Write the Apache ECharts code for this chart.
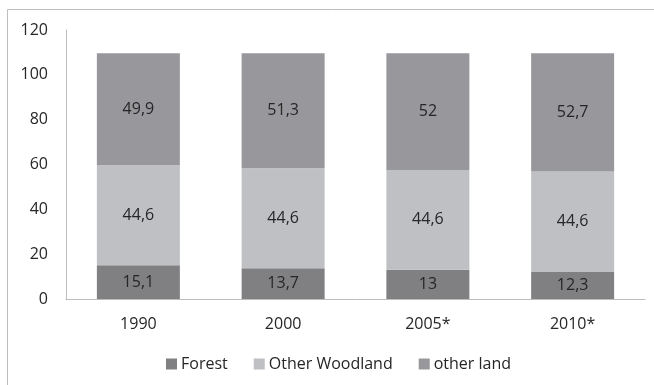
<!DOCTYPE html>
<html>
<head>
<meta charset="utf-8">
<script src="https://cdn.jsdelivr.net/npm/echarts@6/dist/echarts.min.js"></script>
<style>
  html, body { margin: 0; padding: 0; background: #fff; }
  #chart { width: 654px; height: 385px; }
</style>
</head>
<body>
<div id="chart"></div>
<script>
// Land use shares by survey year
const categories = ['1990', '2000', '2005*', '2010*'];
const forest = [15.1, 13.7, 13, 12.3];
const otherWoodland = [44.6, 44.6, 44.6, 44.6];
const otherLand = [49.9, 51.3, 52, 52.7];
const yTicks = [0, 20, 40, 60, 80, 100, 120];

const FONT = '"Open Sans", "Liberation Sans", sans-serif';
const TEXT = '#262626';
const SIZE = 16;

const fmt = v => String(v).replace('.', ',');

function barSeries(name, data, color) {
  return {
    name: name,
    type: 'bar',
    stack: 'land',
    data: data,
    barWidth: 83,
    itemStyle: { color: color },
    label: {
      show: true,
      position: 'inside',
      color: TEXT,
      fontFamily: FONT,
      fontSize: SIZE,
      formatter: p => fmt(p.value)
    },
    emphasis: { disabled: true }
  };
}

const chart = echarts.init(document.getElementById('chart'), null, { renderer: 'canvas' });
chart.setOption({
  animation: false,
  graphic: [{
    type: 'rect',
    shape: { x: 7.5, y: 9.5, width: 700, height: 400 },
    style: { fill: 'none', stroke: '#bdbdbd', lineWidth: 1 },
    silent: true
  }],
  grid: { left: 66, right: 9, top: 30, bottom: 86, containLabel: false },
  legend: {
    top: 351,
    left: 161,
    itemWidth: 11,
    itemHeight: 11,
    itemGap: 26,
    icon: 'rect',
    textStyle: { color: TEXT, fontFamily: FONT, fontSize: SIZE, padding: [0, 0, 0, -1] },
    data: ['Forest', 'Other Woodland', 'other land']
  },
  xAxis: {
    type: 'category',
    data: categories,
    axisLine: { lineStyle: { color: '#bdbdbd', width: 1 } },
    axisTick: { show: false },
    axisLabel: { color: TEXT, fontFamily: FONT, fontSize: SIZE, margin: 17 }
  },
  yAxis: {
    type: 'value',
    min: yTicks[0],
    max: yTicks[yTicks.length - 1],
    interval: yTicks[1] - yTicks[0],
    axisLine: { show: true, lineStyle: { color: '#bdbdbd', width: 1 } },
    axisTick: { show: false },
    splitLine: { show: false },
    axisLabel: { color: TEXT, fontFamily: FONT, fontSize: SIZE, margin: 18 }
  },
  series: [
    barSeries('Forest', forest, '#808083'),
    barSeries('Other Woodland', otherWoodland, '#bfc0c4'),
    barSeries('other land', otherLand, '#98989c')
  ]
});
</script>
</body>
</html>
